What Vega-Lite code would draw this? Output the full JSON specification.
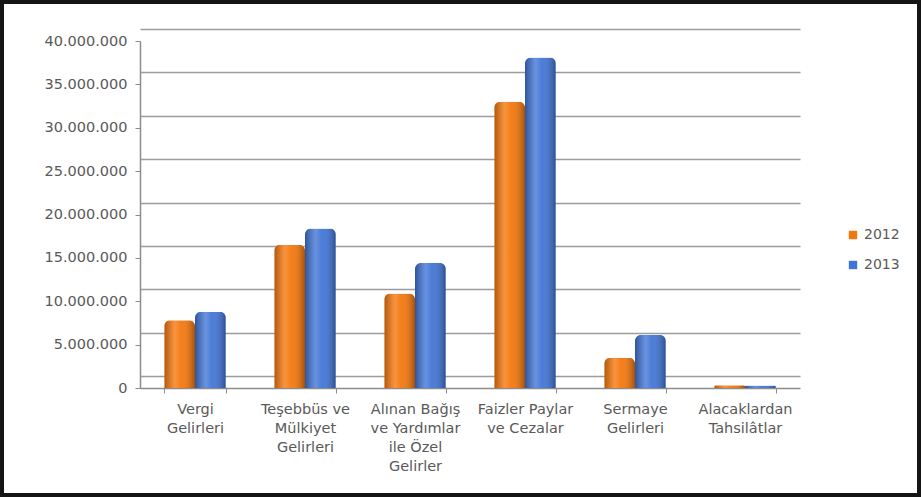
{
  "$schema": "https://vega.github.io/schema/vega-lite/v6.json",
  "autosize": "none",
  "width": 917,
  "height": 493,
  "padding": 2,
  "background": "white",
  "config": {
    "locale": {"number": {"decimal": ",", "thousands": ".", "grouping": [3], "currency": ["", " TL"]}},
    "view": {"stroke": "#151515", "strokeWidth": 4, "fill": "white"},
    "font": "DejaVu Sans",
    "axis": {"labelFont": "DejaVu Sans", "labelFontSize": 14.5, "labelColor": "#595959"},
    "legend": {"labelFont": "DejaVu Sans"}
  },
  "data": {
    "values": [
      {"cat": "Vergi|Gelirleri", "year": "2012", "value": 7800000},
      {"cat": "Vergi|Gelirleri", "year": "2013", "value": 8800000},
      {"cat": "Teşebbüs ve|Mülkiyet|Gelirleri", "year": "2012", "value": 16500000},
      {"cat": "Teşebbüs ve|Mülkiyet|Gelirleri", "year": "2013", "value": 18400000},
      {"cat": "Alınan Bağış|ve Yardımlar|ile Özel|Gelirler", "year": "2012", "value": 10900000},
      {"cat": "Alınan Bağış|ve Yardımlar|ile Özel|Gelirler", "year": "2013", "value": 14400000},
      {"cat": "Faizler Paylar|ve Cezalar", "year": "2012", "value": 33000000},
      {"cat": "Faizler Paylar|ve Cezalar", "year": "2013", "value": 38100000},
      {"cat": "Sermaye|Gelirleri", "year": "2012", "value": 3500000},
      {"cat": "Sermaye|Gelirleri", "year": "2013", "value": 6100000},
      {"cat": "Alacaklardan|Tahsilâtlar", "year": "2012", "value": 320000},
      {"cat": "Alacaklardan|Tahsilâtlar", "year": "2013", "value": 280000}
    ]
  },
  "resolve": {"scale": {"y": "independent"}, "axis": {"y": "independent"}},
  "layer": [
    {
      "description": "back-wall gridlines, drawn one step behind the value axis",
      "mark": {"type": "rule", "opacity": 0},
      "encoding": {
        "x": {"field": "cat", "type": "nominal", "sort": null},
        "y": {
          "field": "value", "type": "quantitative",
          "scale": {"domain": [0, 40000000], "range": [374, 27], "nice": false},
          "axis": {
            "orient": "left", "grid": true, "gridColor": "#9c9c9c", "gridWidth": 1.5,
            "labels": false, "ticks": false, "domain": false, "title": null,
            "values": [0, 5000000, 10000000, 15000000, 20000000, 25000000, 30000000, 35000000, 40000000]
          }
        }
      }
    },
    {
      "mark": {"type": "bar", "cornerRadiusTopLeft": 6, "cornerRadiusTopRight": 6},
      "encoding": {
        "x": {
          "field": "cat", "type": "nominal", "sort": null,
          "scale": {"range": [138, 798], "paddingInner": 0.44, "paddingOuter": 0.22},
          "axis": {
            "orient": "bottom", "offset": -107, "title": null,
            "labelExpr": "split(datum.label, '|')", "labelAngle": 0, "labelAlign": "center",
            "labelLineHeight": 19, "labelPadding": 16, "labelOverlap": false, "labelLimit": 200,
            "tickBand": "extent", "tickSize": 5, "tickColor": "#8c8c8c",
            "domainColor": "#8c8c8c", "domainWidth": 1.5
          }
        },
        "xOffset": {"field": "year", "type": "nominal"},
        "y": {
          "field": "value", "type": "quantitative",
          "scale": {"domain": [0, 40000000], "range": [386, 39], "nice": false},
          "axis": {
            "orient": "left", "offset": -138, "grid": false, "title": null, "format": ",d",
            "values": [0, 5000000, 10000000, 15000000, 20000000, 25000000, 30000000, 35000000, 40000000],
            "tickSize": 5, "tickColor": "#8c8c8c", "labelPadding": 8,
            "domainColor": "#8c8c8c", "domainWidth": 1.5
          }
        },
        "color": {
          "field": "year", "type": "nominal",
          "scale": {"domain": ["2012", "2013"], "range": ["#F5760A", "#3F74D6"]},
          "legend": {
            "orient": "none", "legendX": 844, "legendY": 226, "title": null,
            "symbolType": "square", "symbolSize": 70, "labelFontSize": 14,
            "labelColor": "#595959", "rowPadding": 16, "labelOffset": 4
          }
        }
      }
    },
    {
      "description": "cylinder shading over each bar",
      "mark": {
        "type": "bar", "cornerRadiusTopLeft": 6, "cornerRadiusTopRight": 6,
        "fill": {
          "gradient": "linear", "x1": 0, "x2": 1, "y1": 0, "y2": 0,
          "stops": [
            {"offset": 0, "color": "rgba(0,0,0,0.28)"},
            {"offset": 0.35, "color": "rgba(255,255,255,0.22)"},
            {"offset": 0.55, "color": "rgba(255,255,255,0.06)"},
            {"offset": 1, "color": "rgba(0,0,0,0.32)"}
          ]
        }
      },
      "encoding": {
        "x": {"field": "cat", "type": "nominal", "sort": null},
        "xOffset": {"field": "year", "type": "nominal"},
        "y": {
          "field": "value", "type": "quantitative",
          "scale": {"domain": [0, 40000000], "range": [386, 39], "nice": false},
          "axis": null
        }
      }
    }
  ]
}
